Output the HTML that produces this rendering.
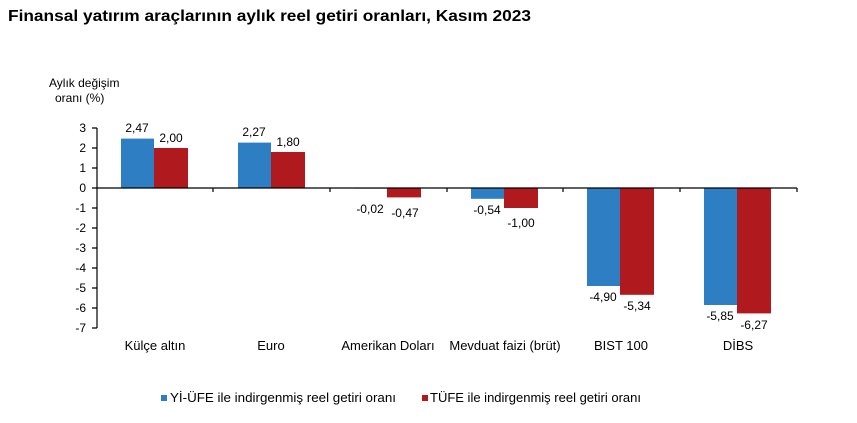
<!DOCTYPE html>
<html><head><meta charset="utf-8"><style>
body{margin:0;background:#fff;width:857px;height:418px;overflow:hidden}
text{font-family:"Liberation Sans",Arial,sans-serif;fill:#000}
</style></head><body>
<svg width="857" height="418" xmlns="http://www.w3.org/2000/svg">
<text x="8" y="21" font-size="16" font-weight="bold" textLength="523" lengthAdjust="spacingAndGlyphs">Finansal yatırım araçlarının aylık reel getiri oranları, Kasım 2023</text>
<text x="49" y="87" font-size="12">Aylık değişim</text>
<text x="55" y="102" font-size="12">oranı (%)</text>
<g font-size="12" text-anchor="end">
<text x="86" y="132">3</text><text x="86" y="152">2</text><text x="86" y="172">1</text><text x="86" y="192">0</text>
<text x="86" y="212">-1</text><text x="86" y="232">-2</text><text x="86" y="252">-3</text><text x="86" y="272">-4</text>
<text x="86" y="292">-5</text><text x="86" y="312">-6</text><text x="86" y="332">-7</text>
</g>
<g fill="#2e7ec4">
<rect x="121" y="138.6" width="33" height="49.4"/>
<rect x="238" y="142.6" width="33" height="45.4"/>
<rect x="354" y="188" width="33" height="0.6"/>
<rect x="471" y="188" width="33" height="10.8"/>
<rect x="587" y="188" width="33" height="98"/>
<rect x="704" y="188" width="33" height="117"/>
</g>
<g fill="#b0191e">
<rect x="154" y="148" width="34" height="40"/>
<rect x="271" y="152" width="34" height="36"/>
<rect x="387" y="188" width="34" height="9.4"/>
<rect x="504" y="188" width="34" height="20"/>
<rect x="620" y="188" width="34" height="106.8"/>
<rect x="737" y="188" width="34" height="125.4"/>
</g>
<g stroke="#000" stroke-width="1.2" fill="none">
<path d="M97 128V328"/>
<path d="M92 128H97M92 148H97M92 168H97M92 188H97M92 208H97M92 228H97M92 248H97M92 268H97M92 288H97M92 308H97M92 328H97"/>
<path d="M97 188H797"/>
<path d="M213 188V192M330 188V192M447 188V192M563 188V192M680 188V192M797 188V192"/>
</g>
<g font-size="12" text-anchor="middle">
<text x="137" y="132">2,47</text><text x="171" y="142">2,00</text>
<text x="254" y="136">2,27</text><text x="288" y="146">1,80</text>
<text x="370" y="213">-0,02</text><text x="405" y="217">-0,47</text>
<text x="487" y="214">-0,54</text><text x="521" y="227">-1,00</text>
<text x="603" y="301">-4,90</text><text x="637" y="310">-5,34</text>
<text x="720" y="320">-5,85</text><text x="754" y="329">-6,27</text>
</g>
<g font-size="13" text-anchor="middle">
<text x="155" y="350">Külçe altın</text><text x="271" y="350">Euro</text>
<text x="388" y="350">Amerikan Doları</text><text x="505" y="350">Mevduat faizi (brüt)</text>
<text x="621" y="350">BIST 100</text><text x="738" y="350">DİBS</text>
</g>
<rect x="161" y="395" width="6" height="6" fill="#2e7ec4"/>
<text x="170" y="402" font-size="13" textLength="226" lengthAdjust="spacingAndGlyphs">Yİ-ÜFE ile indirgenmiş reel getiri oranı</text>
<rect x="422" y="395" width="6" height="6" fill="#b0191e"/>
<text x="430" y="402" font-size="13" textLength="211" lengthAdjust="spacingAndGlyphs">TÜFE ile indirgenmiş reel getiri oranı</text>
</svg>
</body></html>
